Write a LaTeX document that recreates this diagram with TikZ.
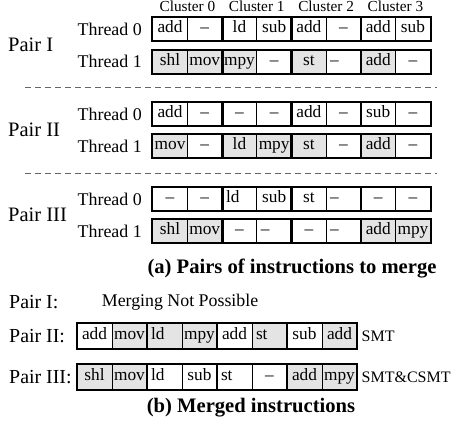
\documentclass[tikz,border=0pt]{standalone}
\usepackage{fontspec}
\setmainfont{Liberation Serif}
\begin{document}
\begin{tikzpicture}[x=1pt,y=-1pt,
  cellbase/.style={draw=black, line width=0.8pt, inner sep=0pt, text height=12pt, text depth=4pt,
    font=\fontsize{17.3}{20}\selectfont},
  topcell/.style={cellbase, minimum width=34.7pt, minimum height=23.3pt},
  mrgcell/.style={cellbase, minimum width=35pt, minimum height=25pt},
  wc/.style={fill=white},
  gc/.style={fill=shade},
  wlc/.style={fill=white, align=left, inner xsep=4pt, text width=\leftw},
  glc/.style={fill=shade, align=left, inner xsep=4pt, text width=\leftw},
  clusterbox/.style={draw=black, line width=2pt},
  threadlbl/.style={anchor=east, inner sep=0pt, font=\fontsize{17.9}{20}\selectfont},
  pairlbl/.style={anchor=west, inner sep=0pt, font=\fontsize{20.5}{24}\selectfont},
  clusterlbl/.style={inner sep=0pt, font=\fontsize{15.3}{18}\selectfont},
  caption/.style={inner sep=0pt, font=\fontsize{20.6}{24}\selectfont\bfseries},
  note/.style={anchor=west, inner sep=0pt, font=\fontsize{16}{19}\selectfont},
  separator/.style={draw=black!60, line width=0.9pt, dash pattern=on 6pt off 4pt}]
\definecolor{shade}{HTML}{E4E4E4}
\useasboundingbox (0,0) rectangle (456,425);

% one row of eight instruction slots, framed cluster by cluster
% #1 name prefix, #2 left x, #3 centre y, #4 slot width, #5 slot style, #6 slots
\newcommand{\slotrow}[6]{%
  \foreach \txt/\sty [count=\i] in {#6} {
    \node[#5, \sty] (#1-\i) at ({#2+(\i-0.5)*#4}, #3) {\txt};
  }
  \foreach \k [evaluate=\k as \kk using int(\k+1)] in {1,3,5,7} {
    \draw[clusterbox] (#1-\k.north west) rectangle (#1-\kk.south east);
  }
}

% cluster headings
\foreach \c in {0,1,2,3} {
  \node[clusterlbl] (cl\c) at ({152.7+69.35*\c+34.7}, 6) {Cluster \c};
}

\def\leftw{26.7pt}
% Pair I
\node[pairlbl] (pI) at (8, 45.3) {Pair I};
\node[threadlbl] (pIt0) at (142, 29) {Thread 0};
\node[threadlbl] (pIt1) at (142, 61.7) {Thread 1};
\slotrow{aI0}{152.7}{29}{34.7}{topcell}{add/wc, –/wc, ld/wc, sub/wc, add/wc, –/wc, add/wc, sub/wc}
\slotrow{aI1}{152.7}{61.7}{34.7}{topcell}{shl/gc, mov/gc, mpy/gc, –/wc, st/gc, –/wlc, add/gc, –/wc}

\coordinate (s1a) at (25, 87.5);
\coordinate (s1b) at (437, 87.5);
\draw[separator] (s1a) -- (s1b);

% Pair II
\node[pairlbl] (pII) at (8, 130) {Pair II};
\node[threadlbl] (pIIt0) at (142, 114) {Thread 0};
\node[threadlbl] (pIIt1) at (142, 146) {Thread 1};
\slotrow{aII0}{152.7}{114}{34.7}{topcell}{add/wc, –/wc, –/wc, –/wc, add/wc, –/wc, sub/wc, –/wc}
\slotrow{aII1}{152.7}{146}{34.7}{topcell}{mov/gc, –/wc, ld/gc, mpy/gc, st/gc, –/wc, add/gc, –/wc}

\coordinate (s2a) at (25, 173.5);
\coordinate (s2b) at (437, 173.5);
\draw[separator] (s2a) -- (s2b);

% Pair III
\node[pairlbl] (pIII) at (8, 215) {Pair III};
\node[threadlbl] (pIIIt0) at (142, 199) {Thread 0};
\node[threadlbl] (pIIIt1) at (142, 231) {Thread 1};
\slotrow{aIII0}{152.7}{199}{34.7}{topcell}{–/wc, –/wc, ld/wlc, sub/wc, st/wc, –/wlc, –/wc, –/wc}
\slotrow{aIII1}{152.7}{231}{34.7}{topcell}{shl/gc, mov/gc, –/wc, –/wlc, –/wc, –/wlc, add/gc, mpy/gc}

\node[caption] (capa) at (292, 268.5) {(a) Pairs of instructions to merge};

% merged bundles
\def\leftw{27pt}
\node[pairlbl, font=\fontsize{19.9}{24}\selectfont] (mI) at (9, 302.5) {Pair I:};
\node[note, font=\fontsize{17.85}{20}\selectfont] (mInote) at (101.7, 302.5) {Merging Not Possible};

\node[pairlbl, font=\fontsize{19.9}{24}\selectfont] (mII) at (9, 336) {Pair II:};
\slotrow{bII}{77}{336}{35}{mrgcell}{add/wc, mov/gc, ld/glc, mpy/gc, add/wc, st/glc, sub/wc, add/gc}
\node[note] (mIInote) at (361.5, 336) {SMT};

\node[pairlbl, font=\fontsize{19.9}{24}\selectfont] (mIII) at (9, 377) {Pair III:};
\slotrow{bIII}{77}{377}{35}{mrgcell}{shl/gc, mov/gc, ld/wlc, sub/wc, st/wlc, –/wc, add/gc, mpy/gc}
\node[note] (mIIInote) at (361.5, 377) {SMT\&CSMT};

\node[caption] (capb) at (251, 407.5) {(b) Merged instructions};
\end{tikzpicture}
\end{document}
